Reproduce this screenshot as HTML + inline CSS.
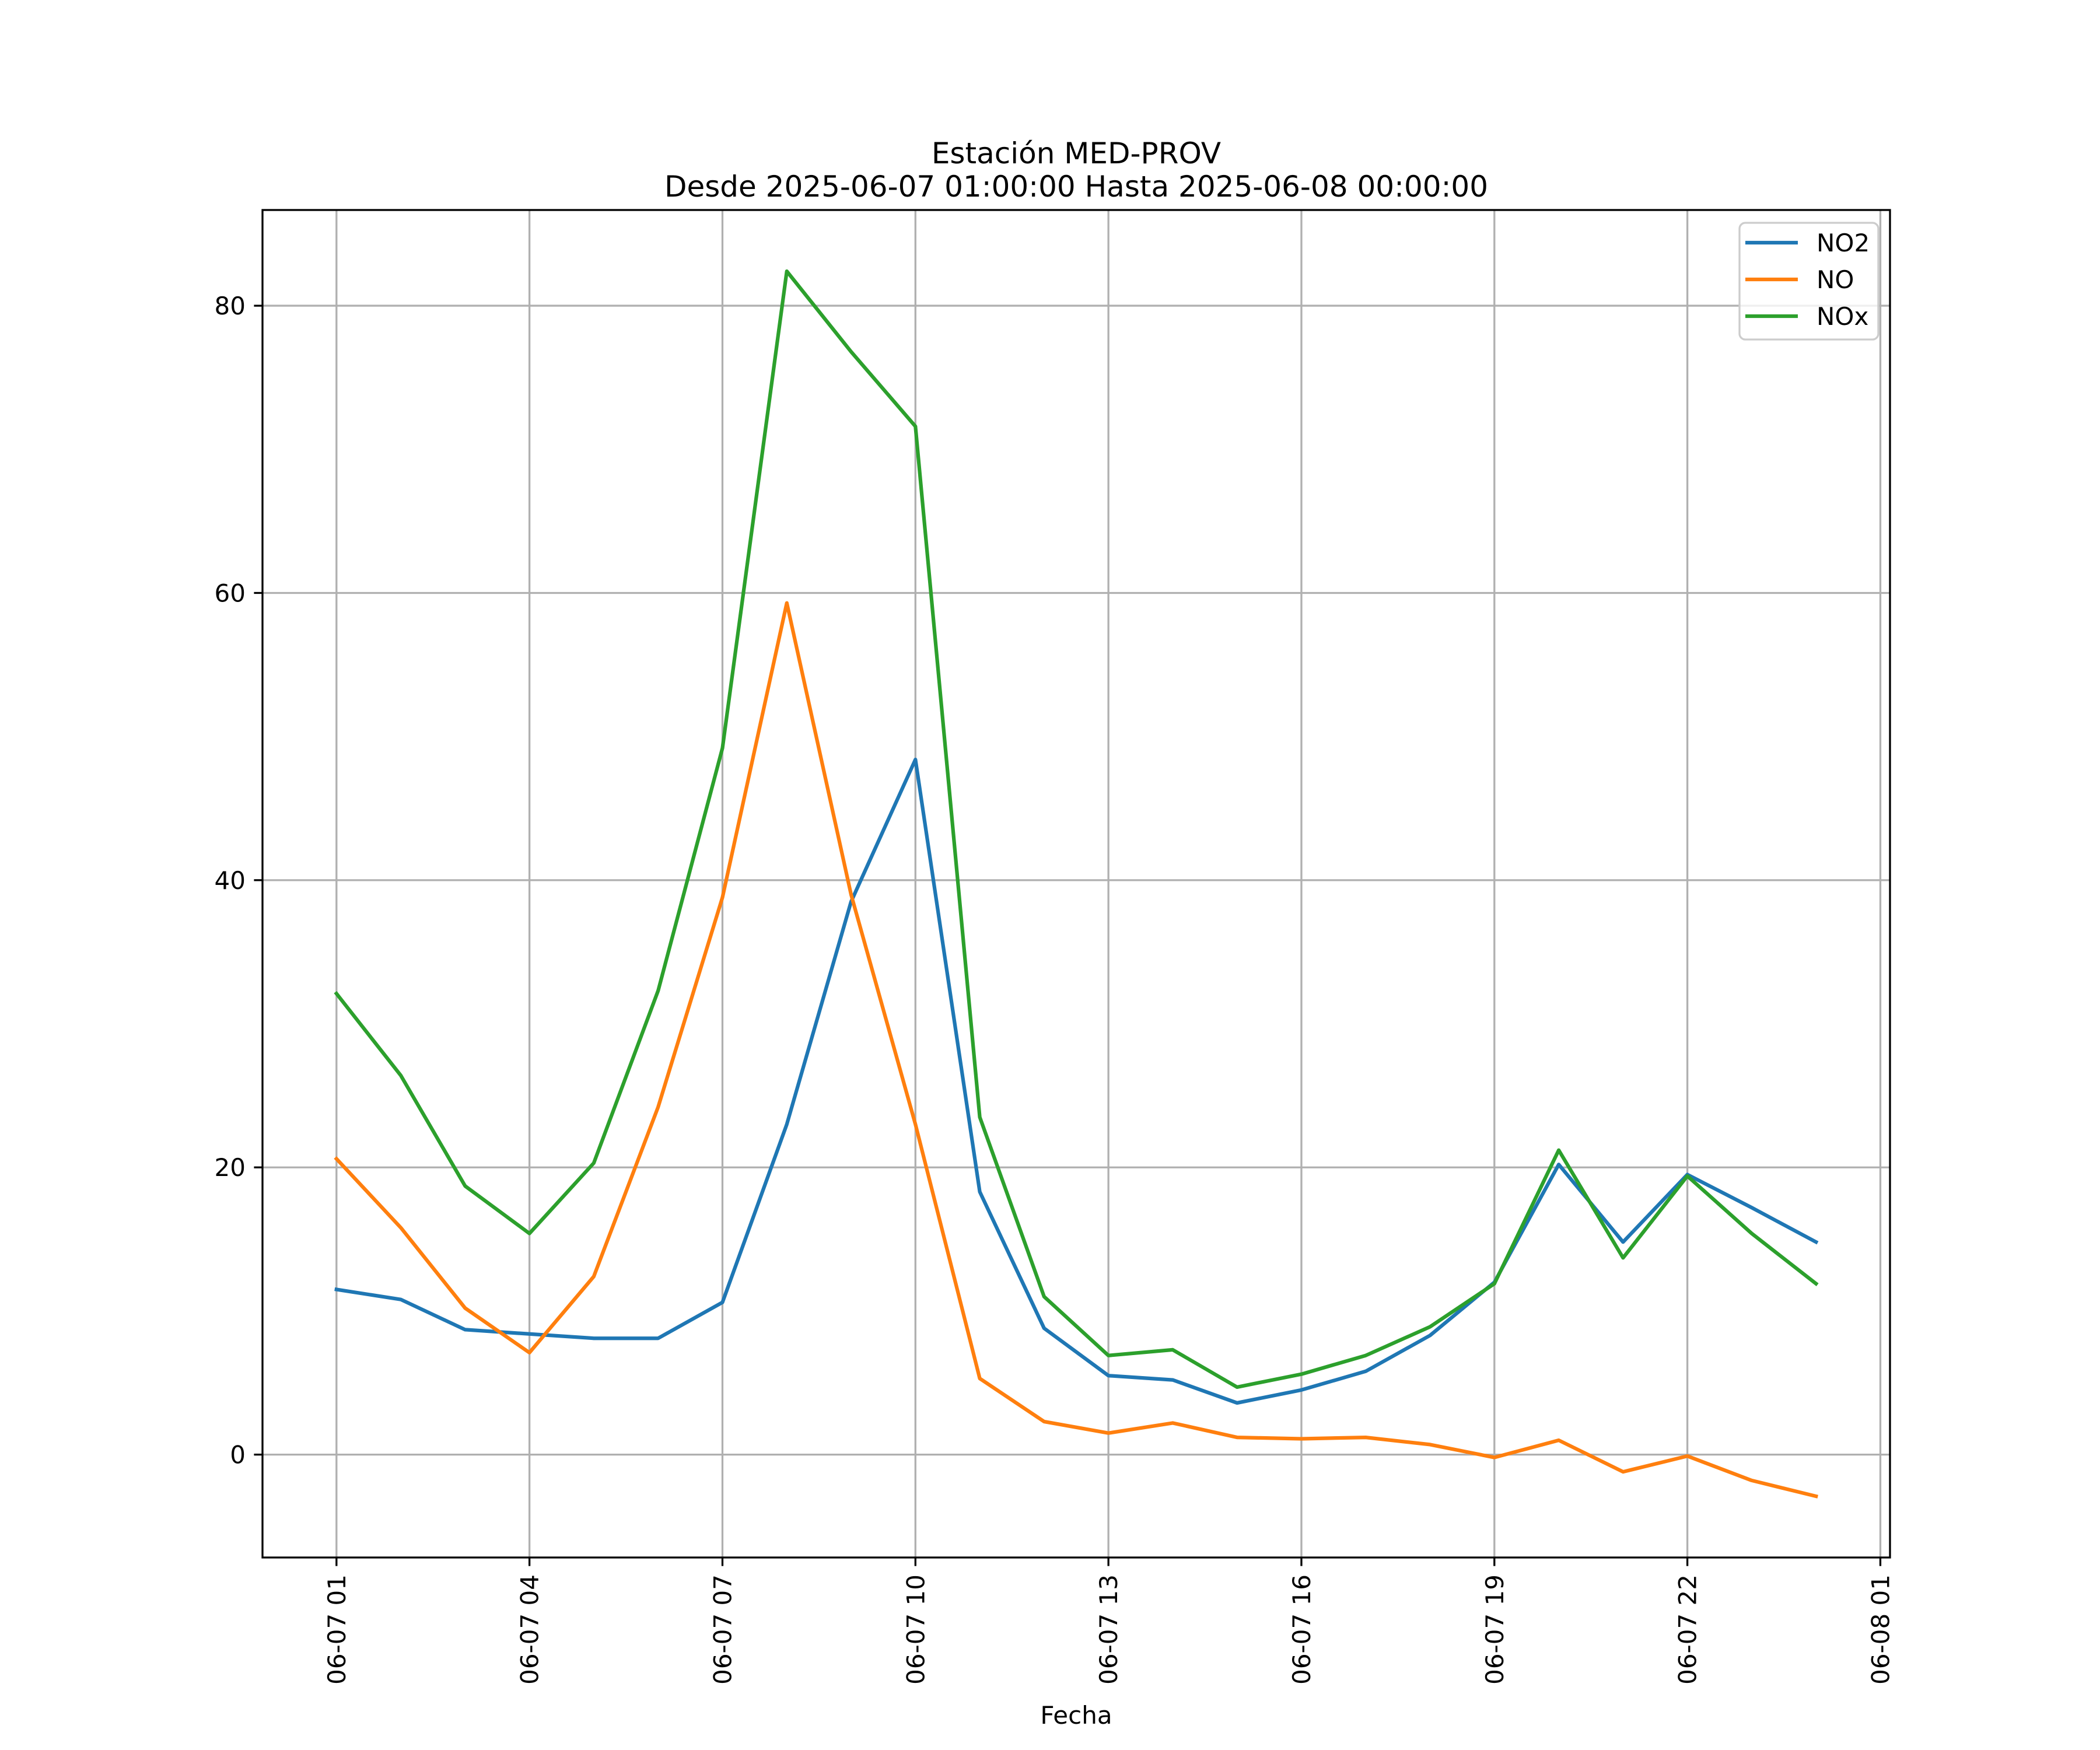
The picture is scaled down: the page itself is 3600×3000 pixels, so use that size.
<!DOCTYPE html>
<html><head><meta charset="utf-8"><style>
html,body{margin:0;padding:0;background:#fff;}
svg{display:block;font-family:"DejaVu Sans","Liberation Sans",sans-serif;}
</style></head><body>
<svg id="chart" width="3600" height="3000" viewBox="0 0 3600 3000" xmlns="http://www.w3.org/2000/svg">
<rect width="3600" height="3000" fill="#fff"/>
<text x="1845" y="280" font-size="50" text-anchor="middle">Estación MED-PROV</text>
<text x="1845" y="337" font-size="50" text-anchor="middle">Desde 2025-06-07 01:00:00 Hasta 2025-06-08 00:00:00</text>
<g id="grid"></g>
<g id="series"></g>
<rect x="450" y="360" width="2790" height="2310" fill="none" stroke="#000" stroke-width="3.3"/>
<g id="ticks"></g>
<text x="1845" y="2955" font-size="42" text-anchor="middle">Fecha</text>
<g>
<rect x="2982" y="382" width="238" height="200" rx="10" fill="#fff" fill-opacity="0.8" stroke="#ccc" stroke-width="3.3"/>
<line x1="2992" y1="416" x2="3082" y2="416" stroke="#1f77b4" stroke-width="6.25"/>
<text x="3114" y="431" font-size="42">NO2</text>
<line x1="2992" y1="479" x2="3082" y2="479" stroke="#ff7f0e" stroke-width="6.25"/>
<text x="3114" y="494" font-size="42">NO</text>
<line x1="2992" y1="542" x2="3082" y2="542" stroke="#2ca02c" stroke-width="6.25"/>
<text x="3114" y="557" font-size="42">NOx</text>
</g>
</svg>
<script>
const hours = [1,2,3,4,5,6,7,8,9,10,11,12,13,14,15,16,17,18,19,20,21,22,23,24];
const no2 = [11.5,10.8,8.7,8.4,8.1,8.1,10.6,23,38.5,48.4,18.3,8.8,5.5,5.2,3.6,4.5,5.8,8.3,12,20.2,14.8,19.5,17.2,14.8];
const no = [20.6,15.8,10.2,7.1,12.4,24.2,38.8,59.3,39,23,5.3,2.3,1.5,2.2,1.2,1.1,1.2,0.7,-0.2,1.0,-1.2,-0.1,-1.8,-2.9];
const nox = [32.1,26.4,18.7,15.4,20.3,32.3,49.2,82.4,76.8,71.6,23.5,11,6.9,7.3,4.7,5.6,6.9,8.9,11.9,21.2,13.7,19.4,15.4,11.9];
const xTickHours = [1,4,7,10,13,16,19,22,25];
const xTickLabels = ["06-07 01","06-07 04","06-07 07","06-07 10","06-07 13","06-07 16","06-07 19","06-07 22","06-08 01"];
const yTicks = [0,20,40,60,80];

const NS = "http://www.w3.org/2000/svg";
const L=450,R=3240,T=360,B=2670;
const all=no2.concat(no,nox);
const dmin=Math.min(...all), dmax=Math.max(...all);
const ymin=dmin-0.05*(dmax-dmin), ymax=dmax+0.05*(dmax-dmin);
const h0=hours[0], h1=hours[hours.length-1];
const xmin=h0-0.05*(h1-h0), xmax=h1+0.05*(h1-h0);
function sx(h){return L+(h-xmin)/(xmax-xmin)*(R-L);}
function sy(v){return B-(v-ymin)/(ymax-ymin)*(B-T);}
function mk(tag,attrs,parent){const e=document.createElementNS(NS,tag);for(const k in attrs)e.setAttribute(k,attrs[k]);parent.appendChild(e);return e;}
const grid=document.getElementById('grid'), ticks=document.getElementById('ticks'), series=document.getElementById('series');
xTickHours.forEach((h,i)=>{
  const x=sx(h);
  const g=mk('line',{x1:x,y1:T,x2:x,y2:B,stroke:'#b0b0b0','stroke-width':3.3},grid);
  
  
  const t=mk('line',{x1:x,y1:B,x2:x,y2:B+14.6,stroke:'#000','stroke-width':3.3},ticks);
  
  
  const tx=mk('text',{x:0,y:0,'font-size':42,'text-anchor':'end',transform:`translate(${x+15},${B+29}) rotate(-90)`},ticks);
  tx.textContent=xTickLabels[i];
  
  
});
yTicks.forEach(v=>{
  const y=sy(v);
  const g=mk('line',{x1:L,y1:y,x2:R,y2:y,stroke:'#b0b0b0','stroke-width':3.3},grid);
  
  
  const t=mk('line',{x1:L-14.6,y1:y,x2:L,y2:y,stroke:'#000','stroke-width':3.3},ticks);
  
  
  const tx=mk('text',{x:L-29,y:y+15,'font-size':42,'text-anchor':'end'},ticks);
  tx.textContent=String(v);
  
  
});
[[no2,'#1f77b4','no2-line'],[no,'#ff7f0e','no-line'],[nox,'#2ca02c','nox-line']].forEach(([arr,c,n])=>{
  const pts=arr.map((v,i)=>sx(hours[i]).toFixed(1)+','+sy(v).toFixed(1)).join(' ');
  const p=mk('polyline',{points:pts,fill:'none',stroke:c,'stroke-width':6.25,'stroke-linejoin':'round','stroke-linecap':'square'},series);
  
  
});
</script>
</body></html>
